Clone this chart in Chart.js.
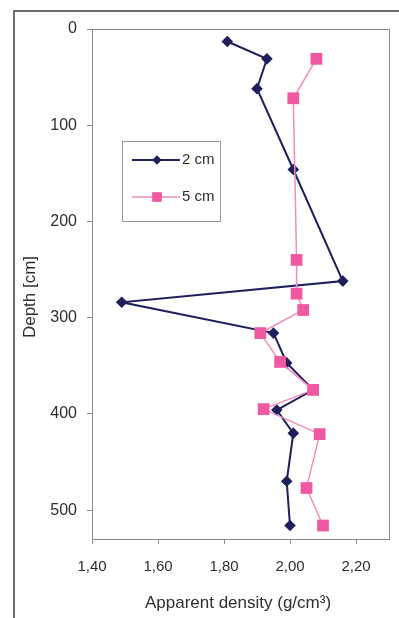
<!DOCTYPE html>
<html>
<head>
<meta charset="utf-8">
<script src="https://cdn.jsdelivr.net/npm/chart.js@4.4.1/dist/chart.umd.min.js"></script>
<style>
html,body{margin:0;padding:0;background:#fff;}
#wrap{width:399px;height:618px;position:relative;}
</style>
</head>
<body>
<div id="wrap"><canvas id="c" width="399" height="618"></canvas></div>
<script>
// Data
const depth2cm   = [13, 31, 62, 146, 262, 284, 316, 347, 375, 396, 420, 470, 516];
const density2cm = [1.81, 1.93, 1.90, 2.01, 2.16, 1.49, 1.95, 1.99, 2.07, 1.96, 2.01, 1.99, 2.00];
const depth5cm   = [31, 72, 240, 275, 292, 316, 346, 375, 395, 421, 477, 516];
const density5cm = [2.08, 2.01, 2.02, 2.02, 2.04, 1.91, 1.97, 2.07, 1.92, 2.09, 2.05, 2.10];
const seriesNames = ['2 cm', '5 cm'];
const xTickValues = [1.40, 1.60, 1.80, 2.00, 2.20];
const yTickValues = [0, 100, 200, 300, 400, 500];
const xTitle = 'Apparent density (g/cm³)';
const yTitle = 'Depth [cm]';

const NAVY = '#1f1f5c';
const PINK = '#f0589f';
const PINK_LINE = '#f38cc0';
const TEXT = '#2e2e2e';
const FONT = 'Liberation Sans, Arial, sans-serif';

const toPts = (xs, ys) => xs.map((x, i) => ({x: x, y: ys[i]}));

const framePlugin = {
  id: 'frame',
  beforeDraw(chart) {
    const ctx = chart.ctx;
    ctx.save();
    ctx.fillStyle = '#fff';
    ctx.fillRect(0, 0, chart.width, chart.height);
    ctx.strokeStyle = '#4a4a4a';
    ctx.lineWidth = 1.6;
    ctx.strokeRect(14, 11, 400, 620);
    // axis titles
    ctx.fillStyle = TEXT;
    ctx.font = '17px ' + FONT;
    ctx.textAlign = 'center';
    ctx.textBaseline = 'middle';
    ctx.fillText(xTitle, 238, 603);
    ctx.translate(30, 297);
    ctx.rotate(-Math.PI / 2);
    ctx.fillText(yTitle, 0, 0);
    ctx.restore();
  },
  afterDatasetsDraw(chart) {
    const ctx = chart.ctx;
    const a = chart.chartArea;
    ctx.save();
    ctx.strokeStyle = '#8a8a8a';
    ctx.lineWidth = 1;
    ctx.strokeRect(a.left + 0.5, a.top + 0.5, a.right - a.left, a.bottom - a.top);
    // legend box
    const bx = 122, by = 141, bw = 98, bh = 80;
    ctx.fillStyle = '#fff';
    ctx.fillRect(bx, by, bw, bh);
    ctx.strokeStyle = '#9a9a9a';
    ctx.strokeRect(bx + 0.5, by + 0.5, bw, bh);
    const items = [
      {name: seriesNames[0], y: 160, line: NAVY, fill: NAVY, lw: 2, style: 'rectRot', r: 4.5},
      {name: seriesNames[1], y: 197, line: PINK_LINE, fill: PINK, lw: 1.5, style: 'rect', r: 6.5}
    ];
    items.forEach(it => {
      ctx.strokeStyle = it.line;
      ctx.lineWidth = it.lw;
      ctx.beginPath();
      ctx.moveTo(132, it.y);
      ctx.lineTo(180, it.y);
      ctx.stroke();
      ctx.fillStyle = it.fill;
      Chart.helpers.drawPoint(ctx, {pointStyle: it.style, radius: it.r, borderWidth: 0}, 157, it.y);
      ctx.fill();
      ctx.fillStyle = TEXT;
      ctx.font = '15px ' + FONT;
      ctx.textBaseline = 'middle';
      ctx.textAlign = 'left';
      ctx.fillText(it.name, 182, it.y);
    });
    ctx.restore();
  }
};

new Chart(document.getElementById('c'), {
  type: 'scatter',
  data: {
    datasets: [
      {
        label: seriesNames[0],
        data: toPts(density2cm, depth2cm),
        showLine: true,
        borderColor: NAVY,
        backgroundColor: NAVY,
        borderWidth: 2,
        pointStyle: 'rectRot',
        pointRadius: 5.8,
        pointBorderWidth: 0,
        order: 1
      },
      {
        label: seriesNames[1],
        data: toPts(density5cm, depth5cm),
        showLine: true,
        borderColor: PINK_LINE,
        backgroundColor: PINK,
        borderWidth: 1.5,
        pointStyle: 'rect',
        pointRadius: 8.3,
        pointBorderWidth: 0,
        order: 0
      }
    ]
  },
  options: {
    responsive: false,
    animation: false,
    layout: {padding: {left: 0, right: 10, top: 29, bottom: 0}},
    plugins: {legend: {display: false}, tooltip: {enabled: false}},
    scales: {
      x: {
        type: 'linear',
        min: 1.40,
        max: 2.30,
        afterBuildTicks(s) { s.ticks = xTickValues.map(v => ({value: v})); },
        afterFit(s) { s.height = 79; },
        grid: {display: true, drawOnChartArea: false, drawTicks: true, tickLength: 5, color: '#8a8a8a'},
        border: {display: false},
        ticks: {
          color: TEXT,
          font: {family: FONT, size: 15},
          padding: 14,
          callback: v => v.toFixed(2).replace('.', ',')
        },
        title: {display: false}
      },
      y: {
        type: 'linear',
        reverse: true,
        min: 0,
        max: 530,
        afterBuildTicks(s) { s.ticks = yTickValues.map(v => ({value: v})); },
        afterFit(s) { s.width = 92; },
        grid: {display: true, drawOnChartArea: false, drawTicks: true, tickLength: 5, color: '#8a8a8a'},
        border: {display: false},
        ticks: {
          color: TEXT,
          font: {family: FONT, size: 16},
          padding: 10
        },
        title: {display: false}
      }
    }
  },
  plugins: [framePlugin]
});
</script>
</body>
</html>
